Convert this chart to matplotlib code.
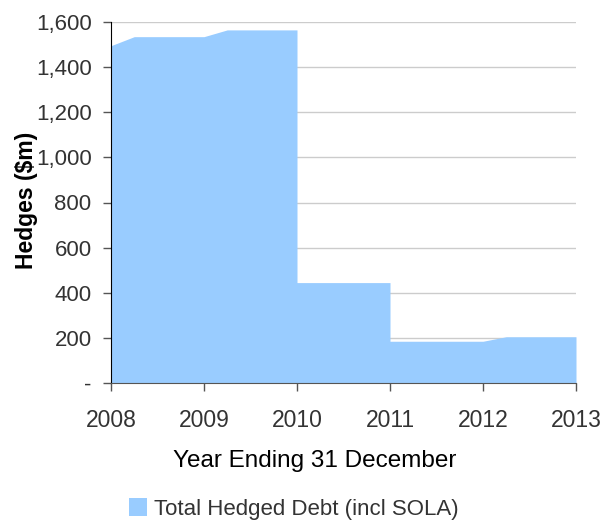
import matplotlib.pyplot as plt
import matplotlib.ticker as mticker
from matplotlib.patches import Patch

plt.rcParams['font.family'] = ['Liberation Sans', 'DejaVu Sans']

# hedged debt profile, quarter-year resolution
years = [2008, 2008.25, 2009, 2009.25, 2010, 2010, 2011, 2011, 2012, 2012.25, 2013]
hedged = [1495, 1535, 1535, 1565, 1565, 445, 445, 185, 185, 205, 205]
year_ticks = [2008, 2009, 2010, 2011, 2012, 2013]
hedge_ticks = [0, 200, 400, 600, 800, 1000, 1200, 1400, 1600]

fill = '#99CCFF'

fig = plt.figure(figsize=(6.02, 5.24), dpi=100)
ax = fig.add_axes([111 / 602, 1 - 383 / 524, 465 / 602, 361 / 524])

ax.fill_between(years, hedged, 0, color=fill, linewidth=0, zorder=2)

ax.set_xlim(2008, 2013)
ax.set_ylim(0, 1600)
ax.set_xticks(year_ticks)
ax.set_yticks(hedge_ticks)
ax.yaxis.set_major_formatter(mticker.FuncFormatter(
    lambda v, p: '-' if v == 0 else f'{int(v):,}'))

ax.grid(axis='y', color='#cccccc', linewidth=1, zorder=0)
ax.set_axisbelow(True)
for s in ['top', 'right']:
    ax.spines[s].set_visible(False)
ax.spines['left'].set_color('black')
ax.spines['bottom'].set_color('#555555')
ax.tick_params(axis='y', length=6, width=1, color='#555555', labelsize=16,
               labelcolor='#333333', pad=8)
ax.tick_params(axis='x', length=6, width=1, color='#555555', labelsize=16.5,
               labelcolor='#333333', pad=13)

ax.set_ylabel('Hedges (\\$m)', fontsize=16.5, fontweight='bold')
ax.yaxis.set_label_coords(-0.157, 0.507)
ax.set_xlabel('Year Ending 31 December', fontsize=17.5)
ax.xaxis.set_label_coords(0.439, -0.186)

fig.legend(handles=[Patch(facecolor=fill, edgecolor='none',
                          label='Total Hedged Debt (incl SOLA)')],
           loc='lower center', bbox_to_anchor=(0.488, -0.03), frameon=False,
           fontsize=16, handlelength=0.8, handleheight=0.9, handletextpad=0.3,
           labelcolor='#333333')

fig.savefig('out.png', dpi=100)
